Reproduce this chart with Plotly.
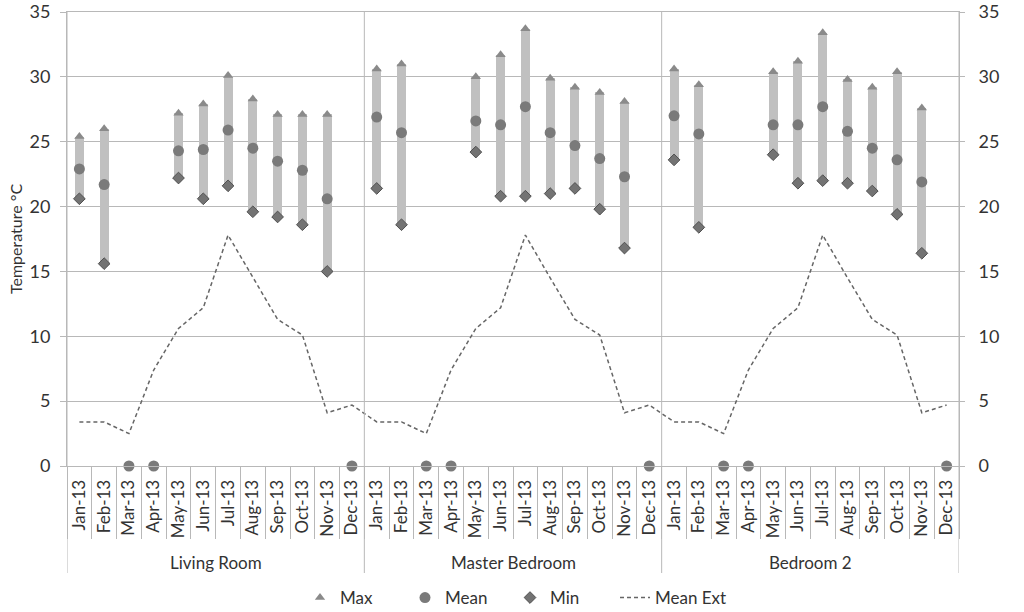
import plotly.graph_objects as go

rooms = ["Living Room", "Master Bedroom", "Bedroom 2"]
months = ["Jan-13", "Feb-13", "Mar-13", "Apr-13", "May-13", "Jun-13",
          "Jul-13", "Aug-13", "Sep-13", "Oct-13", "Nov-13", "Dec-13"]

N = None
max_living = [25.4, 26.0, N, N, 27.2, 27.9, 30.1, 28.3, 27.1, 27.1, 27.1, N]
mean_living = [22.9, 21.7, 0, 0, 24.3, 24.4, 25.9, 24.5, 23.5, 22.8, 20.6, 0]
min_living = [20.6, 15.6, N, N, 22.2, 20.6, 21.6, 19.6, 19.2, 18.6, 15.0, N]

max_master = [30.6, 31.0, N, N, 30.0, 31.7, 33.7, 29.9, 29.2, 28.8, 28.1, N]
mean_master = [26.9, 25.7, 0, 0, 26.6, 26.3, 27.7, 25.7, 24.7, 23.7, 22.3, 0]
min_master = [21.4, 18.6, N, N, 24.2, 20.8, 20.8, 21.0, 21.4, 19.8, 16.8, N]

max_bed2 = [30.6, 29.4, N, N, 30.4, 31.2, 33.4, 29.8, 29.2, 30.4, 27.6, N]
mean_bed2 = [27.0, 25.6, 0, 0, 26.3, 26.3, 27.7, 25.8, 24.5, 23.6, 21.9, 0]
min_bed2 = [23.6, 18.4, N, N, 24.0, 21.8, 22.0, 21.8, 21.2, 19.4, 16.4, N]

mean_ext = [3.4, 3.4, 2.5, 7.4, 10.6, 12.2, 17.8, 14.5, 11.3, 10.1, 4.1, 4.7]

y_ticks = [0, 5, 10, 15, 20, 25, 30, 35]

# assemble
max_all = max_living + max_master + max_bed2
mean_all = mean_living + mean_master + mean_bed2
min_all = min_living + min_master + min_bed2
ext_all = mean_ext * len(rooms)
labels = months * len(rooms)
x = list(range(len(labels)))
span = [None if (a is None or b is None) else a - b for a, b in zip(max_all, min_all)]

GRID = "#b8b8b8"
TXT = "#333333"
FONT = "Lato"

W, H = 1024, 612
PLOT_W, PLOT_H = 892, 454

fig = go.Figure()
fig.add_trace(go.Bar(x=x, y=span, base=min_all, width=0.36,
                     marker=dict(color="#c0c0c0", line=dict(width=0)),
                     showlegend=False, hoverinfo="skip"))
fig.add_trace(go.Scatter(x=x, y=max_all, mode="markers", name="Max",
                         marker=dict(symbol="triangle-up", size=9, color="#8a8a8a"),
                         cliponaxis=False))
fig.add_trace(go.Scatter(x=x, y=mean_all, mode="markers", name="Mean",
                         marker=dict(symbol="circle", size=11, color="#7a7a7a"),
                         cliponaxis=False))
fig.add_trace(go.Scatter(x=x, y=min_all, mode="markers", name="Min",
                         marker=dict(symbol="diamond", size=9, color="#737373",
                                     line=dict(color="#505050", width=1)),
                         cliponaxis=False))
fig.add_trace(go.Scatter(x=x, y=ext_all, mode="lines", name="Mean Ext",
                         line=dict(color="#666666", width=1.5, dash="4px,3px")))
# spacer legend entry so the last label is not clipped
fig.add_trace(go.Scatter(x=[None], y=[None], mode="markers", name=" ",
                         marker=dict(color="rgba(0,0,0,0)", size=1), hoverinfo="skip"))

n = len(labels)
sep_bottom = -107 / PLOT_H
shapes = []
for k in range(len(rooms) + 1):
    xv = k * 12 - 0.5
    shapes.append(dict(type="line", xref="x", yref="paper", x0=xv, x1=xv,
                       y0=sep_bottom, y1=1, line=dict(color=GRID, width=1)))
annotations = []
for k, r in enumerate(rooms):
    annotations.append(dict(text=r, xref="x", yref="paper", x=k * 12 + 5.5,
                            y=-96 / PLOT_H, showarrow=False, yanchor="middle",
                            font=dict(family=FONT, size=17, color=TXT)))
annotations.append(dict(text="Temperature °C", xref="paper", yref="paper",
                        x=-52 / PLOT_W, y=0.5, textangle=-90, showarrow=False,
                        xanchor="center", yanchor="middle",
                        font=dict(family=FONT, size=16, color=TXT)))

fig.update_layout(
    width=W, height=H,
    margin=dict(l=67, r=65, t=12, b=146, autoexpand=False),
    paper_bgcolor="white", plot_bgcolor="white",
    font=dict(family=FONT, size=17, color=TXT),
    bargap=0, hovermode=False,
    shapes=shapes, annotations=annotations,
    legend=dict(orientation="h", x=300 / W, xanchor="left", xref="container",
                y=1 - 598 / H, yref="container", yanchor="middle",
                font=dict(family=FONT, size=17, color=TXT),
                entrywidth=60, traceorder="normal"),
    xaxis=dict(range=[-0.5, n - 0.5], tickmode="array", tickvals=x, ticktext=labels,
               tickangle=-90, ticks="", showgrid=False, zeroline=False,
               showline=True, mirror=True, linecolor=GRID, automargin=False,
               tickfont=dict(family=FONT, size=17, color=TXT), ticklabelstandoff=6,
               minor=dict(tickmode="linear", tick0=-0.5, dtick=1, ticks="outside",
                          ticklen=72, tickcolor=GRID, showgrid=False)),
    yaxis=dict(range=[0, 35], tickmode="array", tickvals=y_ticks, showgrid=True,
               gridcolor=GRID, zeroline=False, showline=True, linecolor=GRID,
               ticks="outside", ticklen=6, tickcolor=GRID, automargin=False,
               ticklabeloverflow="allow",
               tickfont=dict(family=FONT, size=18, color=TXT), ticklabelstandoff=6),
    yaxis2=dict(range=[0, 35], overlaying="y", side="right", tickmode="array",
                tickvals=y_ticks, showgrid=False, zeroline=False, showline=True,
                linecolor=GRID, ticks="outside", ticklen=5, tickcolor=GRID,
                automargin=False, ticklabeloverflow="allow",
                tickfont=dict(family=FONT, size=18, color=TXT), ticklabelstandoff=10),
)
fig.add_trace(go.Scatter(x=[0], y=[0], yaxis="y2", mode="markers",
                         marker=dict(opacity=0), showlegend=False, hoverinfo="skip"))

fig.write_html("out.html", config={"displayModeBar": False},
               post_script="document.body.style.margin='0';")
